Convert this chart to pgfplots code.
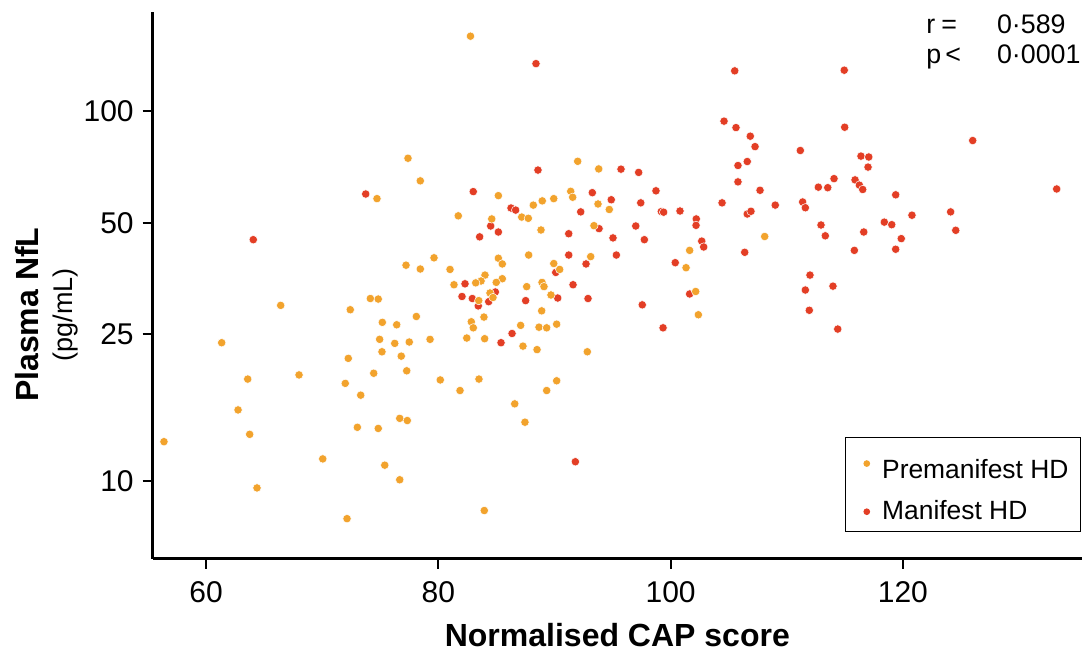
\documentclass[border=0pt]{standalone}
\usepackage{pgfplots}
\pgfplotsset{compat=1.18}
\usepackage{pgfplotstable}
\usepackage{fontspec}
\setmainfont{Liberation Sans}
\usetikzlibrary{calc}
\definecolor{preorange}{RGB}{242,163,45}
\definecolor{manred}{RGB}{227,62,37}

\pgfplotstableread{
x y
82.77 159.7
77.39 74.7
78.45 64.9
74.72 58.1
81.72 52.2
77.22 38.4
78.45 37.5
79.63 40.2
81.01 37.4
81.35 34.0
74.15 31.2
74.83 31.1
66.43 29.9
72.42 29.1
78.11 27.9
75.18 26.9
76.42 26.5
61.35 23.7
74.95 24.2
76.25 23.6
77.50 23.8
79.29 24.2
82.45 24.4
75.15 22.4
72.25 21.5
76.81 21.8
63.59 18.9
68.01 19.4
74.44 19.6
77.28 19.9
71.99 18.4
80.17 18.8
73.32 17.1
81.87 17.6
62.76 15.6
76.68 14.8
77.33 14.6
73.03 14.0
74.83 13.9
56.38 12.8
63.76 13.4
70.05 11.5
75.39 11.06
76.68 10.1
64.39 9.6
72.14 7.93
92.00 73.3
93.81 69.9
85.17 59.2
91.40 60.8
91.57 58.6
88.18 55.8
88.95 57.3
89.94 58.1
93.75 56.2
94.72 54.3
84.60 51.2
87.18 51.8
87.75 51.4
88.84 47.8
93.40 49.1
101.64 42.1
85.17 40.1
85.51 38.7
87.78 40.9
93.12 40.5
89.94 38.8
90.45 37.4
101.33 37.8
84.02 36.1
83.68 34.8
83.22 34.4
85.51 35.3
84.99 34.5
84.45 32.3
84.71 31.4
83.48 30.8
87.61 33.6
88.93 34.5
89.10 33.6
89.70 31.9
88.90 28.9
83.93 27.8
82.84 27.0
83.01 26.0
83.99 24.3
87.09 26.4
88.67 26.1
89.33 26.0
90.19 26.6
87.29 23.2
88.50 22.7
92.83 22.4
83.50 18.9
90.19 18.7
89.33 17.6
86.58 16.2
87.46 14.45
83.96 8.34
102.16 32.6
102.39 28.2
108.10 45.9
}\premanifest

\pgfplotstableread{
x y
88.41 134.6
104.60 94.1
73.75 59.8
64.07 45.0
82.30 34.2
82.04 31.6
88.58 69.4
95.73 69.8
97.25 68.4
83.01 60.7
93.26 60.3
98.74 61.0
104.43 56.6
94.89 57.7
97.43 56.6
86.26 54.8
86.66 54.1
92.26 53.5
99.20 53.6
99.40 53.4
100.81 53.8
102.21 51.2
102.19 49.2
84.51 49.0
83.56 45.8
85.17 47.2
91.23 46.7
93.84 48.2
97.00 49.0
95.04 45.5
97.74 45.0
102.68 44.6
102.85 43.0
91.23 40.9
95.33 40.9
90.11 36.7
92.72 38.7
100.40 39.0
82.93 31.2
83.44 29.8
84.34 30.6
84.91 32.5
87.52 30.8
91.60 34.0
90.28 31.3
92.89 31.2
86.35 25.1
85.40 23.7
91.80 11.3
97.56 30.0
101.64 32.1
99.35 26.0
105.80 71.4
105.80 64.5
105.52 128.7
114.95 129.2
105.63 90.4
106.86 85.7
107.27 80.3
114.99 90.6
126.01 83.4
111.17 78.4
116.39 75.7
117.06 75.3
117.00 70.7
106.60 73.2
107.70 61.2
114.07 65.8
112.72 62.4
113.53 62.2
115.88 65.3
116.25 63.2
116.54 61.5
119.38 59.5
133.24 61.7
109.01 55.8
111.37 56.9
111.60 54.9
106.60 52.8
106.92 53.7
120.78 52.4
124.11 53.5
112.95 49.3
118.40 50.2
119.04 49.4
113.32 46.1
116.63 47.2
124.55 47.7
119.86 45.3
106.38 41.6
115.82 42.1
119.38 42.4
112.00 36.1
111.60 32.9
113.98 33.7
111.94 29.0
114.39 25.8
}\manifest

\begin{document}
\begin{tikzpicture}
\begin{axis}[
  scale only axis,
  width=464.65pt, height=273.5pt,
  xmin=55.41, xmax=135.42,
  ymode=log, ymin=6.18, ymax=186,
  axis x line*=bottom, axis y line*=left,
  axis line style={-, line width=1.25pt, black},
  xtick={60,80,100,120}, xticklabels={60,80,100,120},
  ytick={10,25,50,100}, yticklabels={10,25,50,100},
  yminorticks=false, xminorticks=false,
  tick align=outside, major tick length=5pt,
  tick style={line width=1.1pt, black},
  ticklabel style={font=\fontsize{15}{18}\selectfont},
  xticklabel style={yshift=-3pt},
  yticklabel style={xshift=-1pt},
  xlabel={\textbf{Normalised CAP score}},
  xlabel style={font=\fontsize{16}{19}\selectfont, at={(axis description cs:0.5,-0.1609)}, anchor=base},
  ylabel={\textbf{Plasma NfL}\\\fontsize{13.5}{17}\selectfont(pg/mL)},
  ylabel style={font=\fontsize{16}{17}\selectfont, align=center, at={(axis description cs:-0.1143,0.446)}, anchor=center},
  clip=false,
  legend style={at={(0.9989,0.0483)}, anchor=south east, draw=black, line width=0.5pt,
    font=\fontsize{13.2}{15}\selectfont, inner xsep=4pt, inner ysep=2.5pt, row sep=5.8pt},
  legend cell align=left,
  legend image code/.code={\draw[#1] plot coordinates {(0cm,0cm)}; \path[draw=none,fill=none] (-0.24cm,0cm) -- (0.2cm,0cm);},
]
\addplot[only marks, mark=*, mark size=2.1pt, mark options={fill=manred, draw=white, line width=0.25pt}, forget plot] table[x=x,y=y] {\manifest};
\addplot[only marks, mark=*, mark size=2.1pt, mark options={fill=preorange, draw=white, line width=0.25pt}, forget plot] table[x=x,y=y] {\premanifest};
\addlegendimage{only marks, mark=*, mark size=1.4pt, mark options={fill=preorange, draw=preorange}}
\addlegendentry{\rule{0pt}{16pt}Premanifest HD}
\addlegendimage{only marks, mark=*, mark size=1.4pt, mark options={fill=manred, draw=manred}}
\addlegendentry{Manifest HD}
\node[anchor=base west, inner sep=0pt, font=\fontsize{13.4}{16}\selectfont] at (rel axis cs:0.8321,0.9605) {r};
\node[anchor=base west, inner sep=0pt, font=\fontsize{13.4}{16}\selectfont] at (rel axis cs:0.8483,0.9605) {=};
\node[anchor=base west, inner sep=0pt, font=\fontsize{13.4}{16}\selectfont] at (rel axis cs:0.9082,0.9605) {0·589};
\node[anchor=base west, inner sep=0pt, font=\fontsize{13.4}{16}\selectfont] at (rel axis cs:0.8321,0.9057) {p};
\node[anchor=base west, inner sep=0pt, font=\fontsize{13.4}{16}\selectfont] at (rel axis cs:0.8526,0.9057) {<};
\node[anchor=base west, inner sep=0pt, font=\fontsize{13.4}{16}\selectfont] at (rel axis cs:0.9082,0.9057) {0·0001};
\end{axis}
\pgfresetboundingbox
\path[use as bounding box] ($(current axis.south west)+(-76.35pt,-47.15pt)$) rectangle ($(current axis.north east)+(2pt,5.85pt)$);
\end{tikzpicture}
\end{document}
